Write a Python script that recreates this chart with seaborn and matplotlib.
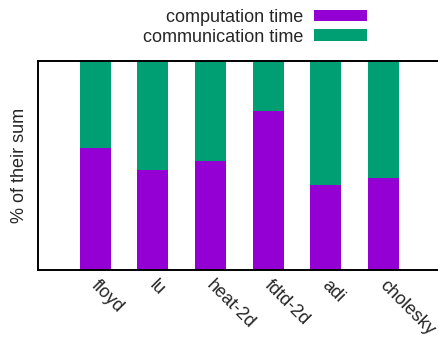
import matplotlib
matplotlib.use("Agg")
import matplotlib.pyplot as plt
import matplotlib.transforms as mtransforms
import seaborn as sns
import pandas as pd
from matplotlib.patches import Patch

# Share of total runtime spent computing vs. communicating, per benchmark
benchmarks = ["floyd", "lu", "heat-2d", "fdtd-2d", "adi", "cholesky"]
computation = [0.581, 0.477, 0.522, 0.759, 0.407, 0.441]
communication = [1 - c for c in computation]

purple = "#9400D3"
green = "#009E73"

df = pd.DataFrame({
    "benchmark": benchmarks,
    "computation": computation,
    "communication": communication,
})
df["total"] = df["computation"] + df["communication"]

sns.set_theme(style="white")
plt.rcParams["font.family"] = ["Liberation Sans", "DejaVu Sans"]
plt.rcParams["font.size"] = 13

fig = plt.figure(figsize=(4.38, 3.37), dpi=100)
ax = fig.add_axes([37.5 / 438, 67 / 337, (441 - 37.5) / 438, (270 - 60.5) / 337])

# stacked bars: full height in green, computation share drawn over it
sns.barplot(data=df, x="benchmark", y="total", color=green, width=0.54,
            saturation=1, edgecolor="none", ax=ax)
sns.barplot(data=df, x="benchmark", y="computation", color=purple, width=0.54,
            saturation=1, edgecolor="none", ax=ax)

ax.set_xlim(-1, 6)
ax.set_ylim(0, 1)
ax.set_yticks([])
ax.set_xlabel("")
ax.set_ylabel("% of their sum", fontsize=13, labelpad=6.5)
ax.tick_params(axis="x", length=0, pad=5)
shift = mtransforms.ScaledTranslation(5 / 100, 0, fig.dpi_scale_trans)
for lbl in ax.get_xticklabels():
    lbl.set_rotation(-45)
    lbl.set_ha("left")
    lbl.set_va("top")
    lbl.set_rotation_mode("anchor")
    lbl.set_fontsize(13)
    lbl.set_transform(lbl.get_transform() + shift)

for s in ax.spines.values():
    s.set_color("black")
    s.set_linewidth(1.4)

handles = [Patch(facecolor=purple, edgecolor="none", label="computation time"),
           Patch(facecolor=green, edgecolor="none", label="communication time")]
fig.legend(handles=handles, loc="upper right", bbox_to_anchor=(367 / 438, 1 - 9 / 337),
           frameon=False, markerfirst=False, fontsize=13, borderpad=0, borderaxespad=0,
           handlelength=2.95, handleheight=0.6, handletextpad=0.6, labelspacing=0.14)

fig.savefig("out.png", dpi=100)
